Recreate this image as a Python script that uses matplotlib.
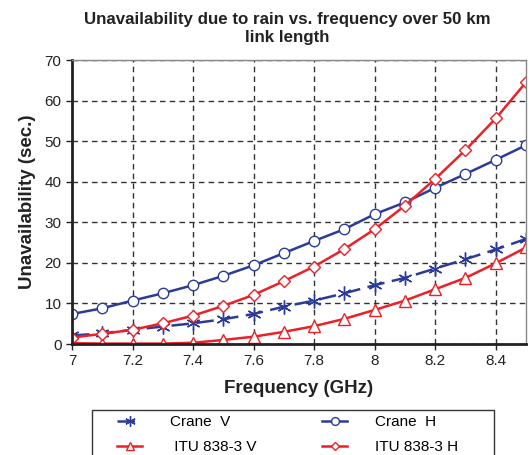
import matplotlib
matplotlib.use("Agg")
import matplotlib.pyplot as plt
from matplotlib.patches import Rectangle

plt.rcParams['font.family'] = ['Liberation Sans', 'DejaVu Sans']

freq = [7.0, 7.1, 7.2, 7.3, 7.4, 7.5, 7.6, 7.7, 7.8, 7.9, 8.0, 8.1, 8.2, 8.3, 8.4, 8.5]
crane_v = [2.1, 2.6, 3.5, 4.3, 5.1, 6.1, 7.4, 9.2, 10.7, 12.5, 14.5, 16.3, 18.6, 20.9, 23.3, 25.9]
crane_h = [7.4, 8.8, 10.7, 12.5, 14.5, 16.8, 19.4, 22.4, 25.4, 28.3, 32.0, 34.9, 38.5, 41.9, 45.4, 49.0]
itu_v = [0.2, 0.1, 0.1, 0.1, 0.3, 1.0, 1.8, 3.0, 4.4, 6.2, 8.4, 10.7, 13.5, 16.3, 19.9, 23.8]
itu_h = [1.6, 2.5, 3.5, 5.1, 7.0, 9.4, 12.1, 15.5, 19.1, 23.4, 28.3, 34.1, 40.7, 47.8, 55.6, 64.5]

blue = '#2c3b98'
red = '#ec2027'

fig = plt.figure(figsize=(5.29, 4.55), dpi=100)
ax = fig.add_axes([72 / 529, 1 - 344 / 455, (526 - 72) / 529, (344 - 60) / 455])

mk = dict(markersize=7, markerfacecolor='white', linewidth=1.8, markeredgewidth=1.0)
l1, = ax.plot(freq, crane_v, color=blue, linestyle=(0, (7, 3)), marker=(6, 2, 0),
              label='Crane  V', **dict(mk, markersize=10))
l2, = ax.plot(freq, itu_v, color=red, marker='^', label=' ITU 838-3 V', **dict(mk, markersize=8))
l3, = ax.plot(freq, crane_h, color=blue, marker='o', label='Crane  H', **dict(mk, markersize=7.5))
l4, = ax.plot(freq, itu_h, color=red, marker='D', label='ITU 838-3 H', **dict(mk, markersize=6))

ax.set_xlim(7, 8.5)
ax.set_ylim(0, 70)
ax.set_xticks([7, 7.2, 7.4, 7.6, 7.8, 8, 8.2, 8.4])
ax.set_xticklabels(['7', '7.2', '7.4', '7.6', '7.8', '8', '8.2', '8.4'])
ax.set_yticks(range(0, 71, 10))
ax.tick_params(labelsize=11, direction='out', length=4, width=1, colors='#222222')
ax.grid(True, color='#333333', linestyle=(0, (4, 3)), linewidth=1)
ax.set_axisbelow(True)
for s in ['left', 'bottom']:
    ax.spines[s].set_linewidth(2)
    ax.spines[s].set_color('#222222')
for s in ['top', 'right']:
    ax.spines[s].set_linewidth(1)
    ax.spines[s].set_color('#888888')

ax.set_xlabel('Frequency (GHz)', fontsize=13.5, fontweight='bold', color='#222222', labelpad=8)
ax.set_ylabel('Unavailability (sec.)', fontsize=13.5, fontweight='bold', color='#222222', labelpad=6)
ax.set_title('Unavailability due to rain vs. frequency over 50 km\nlink length',
             fontsize=12.2, fontweight='bold', color='#222222', x=0.475, pad=13,
             linespacing=1.25)

# legend box (frame drawn separately so the entries can sit inside it with wide padding)
fig.patches.append(Rectangle((92 / 529, -0.05), (494 - 92) / 529, 0.05 + 1 - 410 / 455,
                             transform=fig.transFigure, facecolor='white',
                             edgecolor='#333333', linewidth=1))
fig.legend(handles=[l1, l2, l3, l4], ncol=2, loc='upper left',
           bbox_to_anchor=(117 / 529, 1 - 415 / 455), markerscale=0.75,
           fontsize=11, frameon=False, handlelength=1.65, handletextpad=1.8,
           borderpad=0, borderaxespad=0, labelspacing=0.72, columnspacing=4.3)

fig.savefig('out.png', dpi=100)
